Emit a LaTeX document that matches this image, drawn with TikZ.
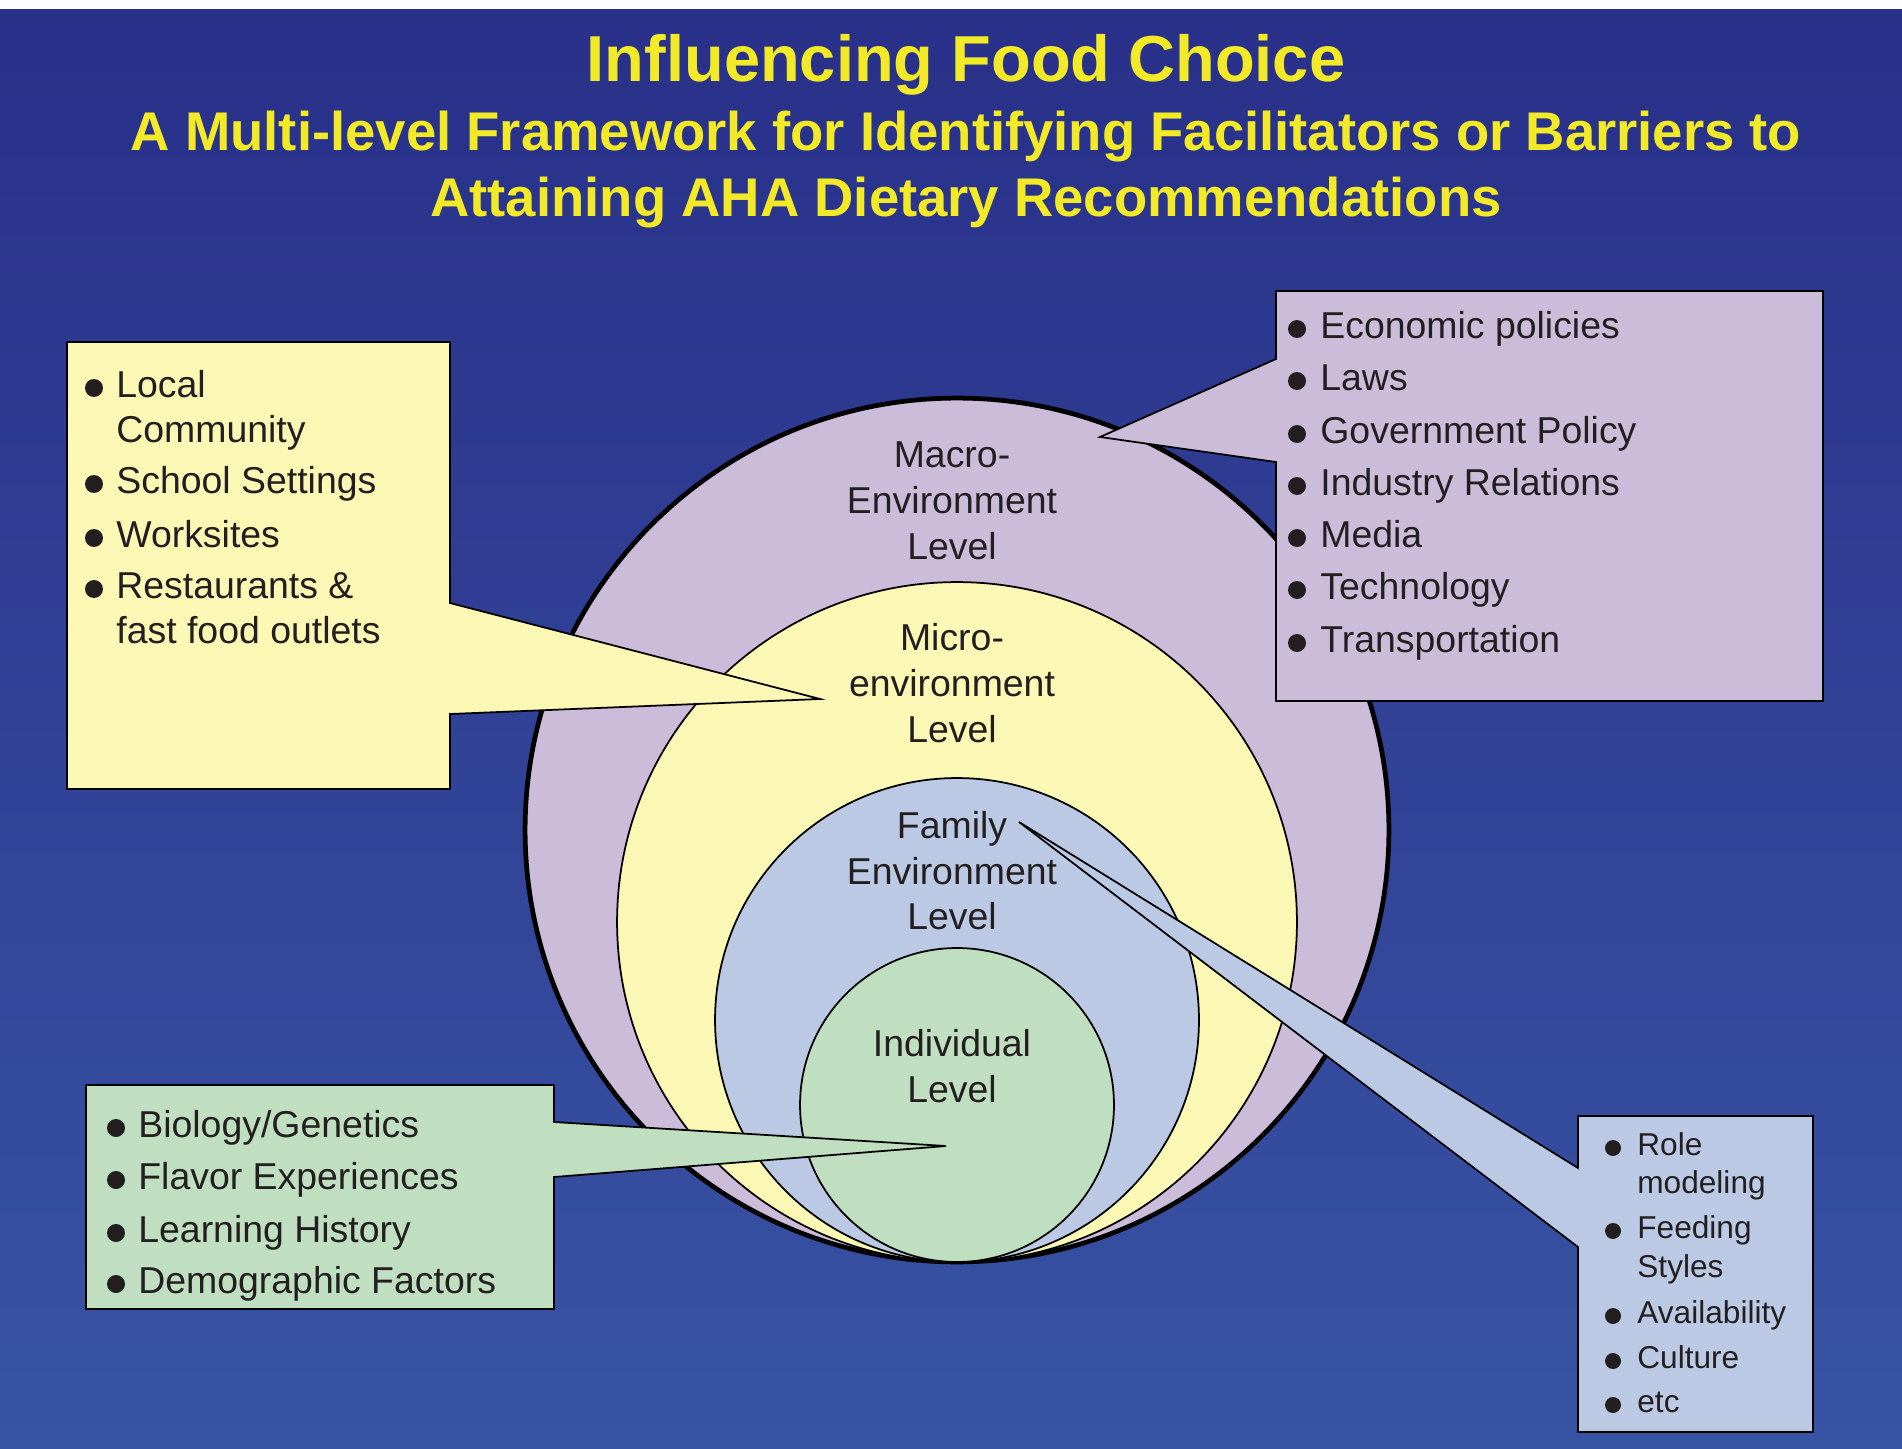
\documentclass[tikz,border=0pt]{standalone}
\usepackage{fontspec}
\setmainfont{Liberation Sans}
\definecolor{bgtop}{HTML}{293089}
\definecolor{bgbot}{HTML}{3853A4}
\definecolor{ttl}{HTML}{F2EA27}
\definecolor{txt}{HTML}{231F20}
\definecolor{cmacro}{HTML}{CBBDDA}
\definecolor{cmicro}{HTML}{FBF8B5}
\definecolor{cfam}{HTML}{BCC9E4}
\definecolor{cind}{HTML}{C0DFC1}
\begin{document}
\begin{tikzpicture}[x=0.02cm,y=-0.02cm,
  ttlA/.style={font=\bfseries\fontsize{37}{40}\selectfont, text=ttl, inner sep=0pt, anchor=base},
  ttlB/.style={font=\bfseries\fontsize{31}{34}\selectfont, text=ttl, inner sep=0pt, anchor=base},
  clab/.style={font=\fontsize{21.3}{25}\selectfont, text=txt, inner sep=0pt, anchor=base},
  blab/.style={clab, anchor=base west},
  slab/.style={font=\fontsize{18}{21}\selectfont, text=txt, inner sep=0pt, anchor=base west},
  ring/.style={draw=black, line width=1pt},
  callout/.style={draw=black, line width=1pt, line join=miter},
  bul/.style={fill=txt}]
\useasboundingbox (0,0) rectangle (1902,1449);
\fill[white] (0,0) rectangle (1902,1449);
\shade[top color=bgtop, bottom color=bgbot] (0,10) rectangle (1902,1449);

% titles
\node[ttlA] (t1) at (966,82) {Influencing Food Choice};
\node[ttlB] (t2) at (966,151) {A Multi-level Framework for Identifying Facilitators or Barriers to};
\node[ttlB] (t3) at (966,217) {Attaining AHA Dietary Recommendations};

% nested circles
\coordinate (cmac) at (957,830);
\coordinate (cmic) at (957,922);
\coordinate (cfa) at (957,1020);
\coordinate (cin) at (957,1105);
\filldraw[fill=cmacro, draw=black, line width=2.7pt] (cmac) circle (8.64cm);
\filldraw[fill=cmicro, ring] (cmic) circle (6.8cm);
\filldraw[fill=cfam, ring] (cfa) circle (4.84cm);
\filldraw[fill=cind, ring] (cin) circle (3.14cm);

% circle labels
\node[clab] (mac1) at (952,467) {Macro-};
\node[clab] (mac2) at (952,513) {Environment};
\node[clab] (mac3) at (952,559) {Level};
\node[clab] (mic1) at (952,650) {Micro-};
\node[clab] (mic2) at (952,696) {environment};
\node[clab] (mic3) at (952,742) {Level};
\node[clab] (fam1) at (952,838) {Family};
\node[clab] (fam2) at (952,884) {Environment};
\node[clab] (fam3) at (952,929) {Level};
\node[clab] (ind1) at (952,1056) {Individual};
\node[clab] (ind2) at (952,1102) {Level};

% callouts
\coordinate (tipY) at (820,699);
\coordinate (tipP) at (1100,437);
\coordinate (tipG) at (946,1146);
\coordinate (tipB) at (1019,822);
\filldraw[fill=cmicro, callout] (67,342) -- (450,342) -- (450,603) -- (tipY) -- (450,714) -- (450,789) -- (67,789) -- cycle;
\filldraw[fill=cmacro, callout] (1276,291) -- (1823,291) -- (1823,701) -- (1276,701) -- (1276,462) -- (tipP) -- (1276,359) -- cycle;
\filldraw[fill=cind, callout] (86,1085) -- (554,1085) -- (554,1122) -- (tipG) -- (554,1177) -- (554,1309) -- (86,1309) -- cycle;
\filldraw[fill=cfam, callout] (1578,1116) -- (1813,1116) -- (1813,1432) -- (1578,1432) -- (1578,1247) -- (tipB) -- (1578,1168) -- cycle;

% yellow box text
\node[blab] (y1) at (116,397) {Local};
\node[blab] (y1b) at (116,442) {Community};
\node[blab] (y2) at (116,493) {School Settings};
\node[blab] (y3) at (116,547) {Worksites};
\node[blab] (y4) at (116,598) {Restaurants \&};
\node[blab] (y4b) at (116,643) {fast food outlets};
\foreach \yy in {388,484,538,589} \fill[bul] (94,\yy) circle (0.18cm);

% purple box text
\node[blab] (p1) at (1320,338) {Economic policies};
\node[blab] (p2) at (1320,390) {Laws};
\node[blab] (p3) at (1320,443) {Government Policy};
\node[blab] (p4) at (1320,495) {Industry Relations};
\node[blab] (p5) at (1320,547) {Media};
\node[blab] (p6) at (1320,599) {Technology};
\node[blab] (p7) at (1320,652) {Transportation};
\foreach \yy in {329,381,434,486,538,590,643} \fill[bul] (1297,\yy) circle (0.18cm);

% green box text
\node[blab] (g1) at (138,1137) {Biology/Genetics};
\node[blab] (g2) at (138,1189) {Flavor Experiences};
\node[blab] (g3) at (138,1242) {Learning History};
\node[blab] (g4) at (138,1293) {Demographic Factors};
\foreach \yy in {1128,1180,1233,1284} \fill[bul] (116,\yy) circle (0.18cm);

% blue box text
\node[slab] (b1) at (1637,1155) {Role};
\node[slab] (b1b) at (1637,1193) {modeling};
\node[slab] (b2) at (1637,1238) {Feeding};
\node[slab] (b2b) at (1637,1277) {Styles};
\node[slab] (b3) at (1637,1323) {Availability};
\node[slab] (b4) at (1637,1368) {Culture};
\node[slab] (b5) at (1637,1412) {etc};
\foreach \yy in {1148,1231,1316,1361,1405} \fill[bul] (1613,\yy) circle (0.16cm);
\end{tikzpicture}
\end{document}
